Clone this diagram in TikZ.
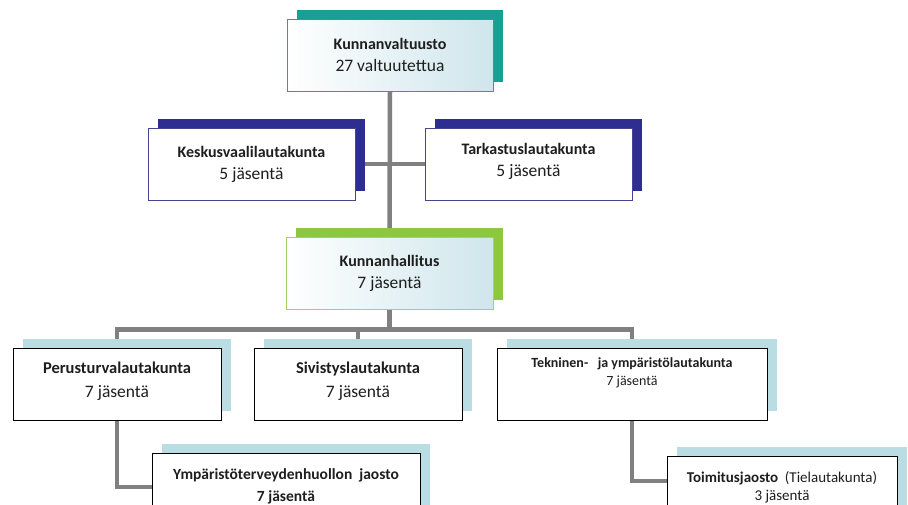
\documentclass[tikz,border=0pt]{standalone}
\usepackage{fontspec}
\setmainfont{Carlito}
\usetikzlibrary{shadows}
\pgfdeclarelayer{background}
\pgfsetlayers{background,main}
\definecolor{tealc}{HTML}{18A097}
\definecolor{navyc}{HTML}{2E2E92}
\definecolor{greenc}{HTML}{8CC83E}
\definecolor{lblue}{HTML}{B9DDE3}
\definecolor{grad}{HTML}{CFE6EC}
\definecolor{conn}{HTML}{808080}
\definecolor{txt}{HTML}{1E1E1E}
\newcommand{\ttlA}[1]{{\fontsize{16}{22}\selectfont\bfseries #1}}
\newcommand{\ttlB}[1]{{\fontsize{16.5}{24}\selectfont\bfseries #1}}
\begin{document}
\begin{tikzpicture}[x=1pt,y=-1pt,
  orgbox/.style={draw, inner sep=0pt, align=center, minimum height=72pt, text=txt,
    font=\fontsize{17.5}{22}\selectfont},
  topbox/.style={orgbox, line width=0.8pt, left color=white, right color=grad},
  tealbox/.style={topbox, draw=tealc!60!gray, general shadow={fill=tealc, shadow xshift=10pt, shadow yshift=9pt}},
  greenbox/.style={topbox, draw=greenc!80!white, general shadow={fill=greenc, shadow xshift=10pt, shadow yshift=9pt}},
  navybox/.style={orgbox, fill=white, draw=navyc!70!gray, line width=0.8pt, general shadow={fill=navyc, shadow xshift=10pt, shadow yshift=9pt}},
  lowbox/.style={orgbox, fill=white, draw=black, line width=0.9pt, general shadow={fill=lblue, shadow xshift=10pt, shadow yshift=9pt}},
  link/.style={draw=conn, line width=4.5pt}]
\clip (0,0) rectangle (908,504);

\node[tealbox, minimum width=206pt] (KV) at (390,55) {\ttlA{Kunnanvaltuusto}\\27 valtuutettua};
\node[navybox, minimum width=207pt] (KL) at (251.5,164) {\ttlA{Keskusvaalilautakunta}\\5 jäsentä};
\node[navybox, minimum width=207pt] (TL) at (528.5,164) {\ttlA{Tarkastuslautakunta}\\5 jäsentä\\[-14pt]};
\node[greenbox, minimum width=207pt] (KH) at (389.5,273) {\ttlA{Kunnanhallitus}\\7 jäsentä};

\node[lowbox, minimum width=208pt, font=\fontsize{17.5}{24}\selectfont] (PT) at (117,384) {\ttlB{Perusturvalautakunta}\\7 jäsentä\\[-16pt]};
\node[lowbox, minimum width=208pt, font=\fontsize{17.5}{24}\selectfont] (SV) at (358,384) {\ttlB{Sivistyslautakunta}\\7 jäsentä\\[-16pt]};
\node[lowbox, minimum width=270pt, font=\fontsize{14}{18}\selectfont] (TE) at (632,384)
  {\textbf{Tekninen-\ \ \ ja ympäristölautakunta}\\7 jäsentä\\[6pt]};
\node[lowbox, minimum width=268pt, font=\fontsize{15.5}{22}\selectfont] (YT) at (286,489)
  {\textbf{Ympäristöterveydenhuollon\ \ jaosto}\\\textbf{7 jäsentä}\\[-14pt]};
\node[lowbox, minimum width=230pt, font=\fontsize{15}{18}\selectfont] (TJ) at (782,492)
  {\textbf{Toimitusjaosto}\ \ (Tielautakunta)\\3 jäsentä\\[-7pt]};

\begin{pgfonlayer}{background}
  \draw[link] (KV.south) -- (KH.north);
  \draw[link] (KL.east) -- (TL.west);
  \draw[link] (KH.south) -- ++(0,20) coordinate (bar);
  \draw[link] (PT.north) |- (bar) -| (TE.north);
  \draw[link] (SV.north) -- (SV.north |- bar);
  \draw[link] (PT.south) |- ([yshift=2pt]YT.west);
  \draw[link] (TE.south) |- ([yshift=11pt]TJ.west);
\end{pgfonlayer}
\end{tikzpicture}
\end{document}
